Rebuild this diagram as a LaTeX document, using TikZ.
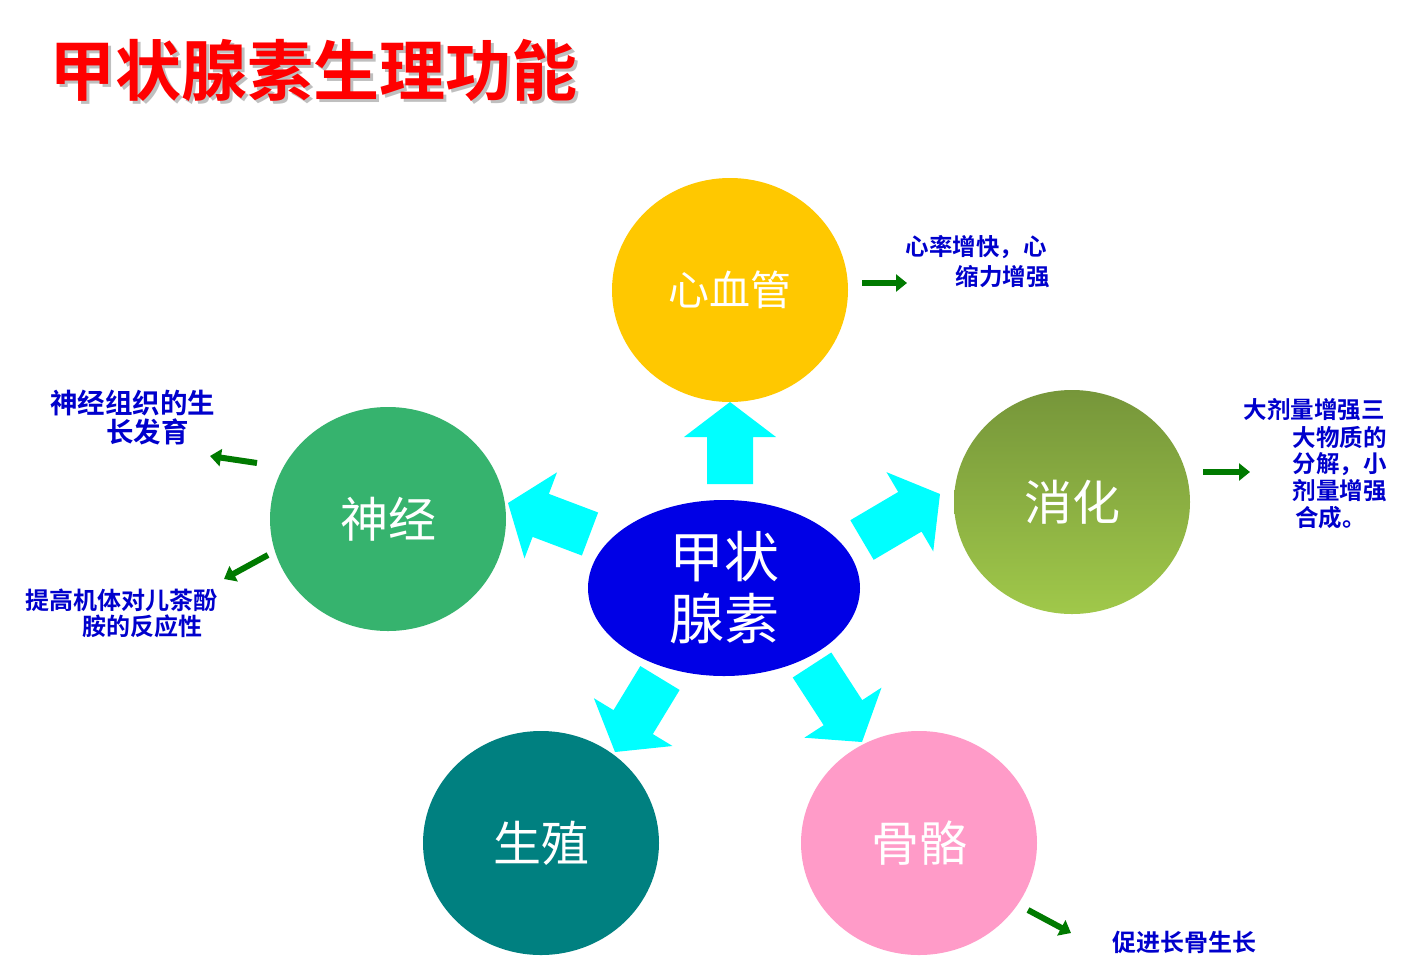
\documentclass[tikz,border=0pt]{standalone}
\usepackage{fontspec}
\newfontfamily\cjk{Noto Sans CJK SC}
\newfontfamily\cjkb{Noto Sans CJK SC Bold}
\usetikzlibrary{calc,arrows.meta,shapes.geometric}
\definecolor{gold}{HTML}{FFC800}
\definecolor{nerve}{HTML}{36B36E}
\definecolor{teal2}{HTML}{008080}
\definecolor{pink2}{HTML}{FF9BC8}
\definecolor{olvtop}{HTML}{76963A}
\definecolor{olvbot}{HTML}{A0C84A}
\definecolor{cblue}{HTML}{0000E6}
\definecolor{cyan2}{HTML}{00FFFF}
\definecolor{dgreen}{HTML}{007A00}
\definecolor{txtblue}{HTML}{0000CC}
\tikzset{
 organ/.style={ellipse,minimum width=236pt,minimum height=224pt,inner sep=0pt,text=white,font=\cjk\fontsize{48}{54}\selectfont},
 note/.style={text=txtblue,font=\cjkb\fontsize{23.5}{26}\selectfont,inner sep=0pt},
 garrow/.style={draw=dgreen,line width=6pt,-{Triangle[length=11pt,width=17pt]}},
 barrow/.style={fill=cyan2,draw=none}
}
\newcommand\blockarrow[2]{%
 \fill[barrow] ($(#1)!23pt!90:(#2)$) -- ($($(#2)!35pt!(#1)$)!23pt!90:(#2)$) -- ($($(#2)!35pt!(#1)$)!46pt!90:(#2)$) -- (#2)
 -- ($($(#2)!35pt!(#1)$)!46pt!-90:(#2)$) -- ($($(#2)!35pt!(#1)$)!23pt!-90:(#2)$) -- ($(#1)!23pt!-90:(#2)$) -- cycle;}
\begin{document}
\begin{tikzpicture}[x=1pt,y=-1pt]
\useasboundingbox[fill=white] (0,0) rectangle (1403,970);
% title with shadow
\node[anchor=west,text=red,font=\cjkb\fontsize{66}{70}\selectfont,inner sep=0pt,
  preaction={text=gray!50}] (title) at (49,72) {\makebox[0pt][l]{\hspace{3pt}\raisebox{-3pt}{\textcolor{gray!50}{甲状腺素生理功能}}}甲状腺素生理功能};
% block arrows
\coordinate (a1) at (730,484); \coordinate (b1) at (730,402);
\coordinate (a2) at (590,534); \coordinate (b2) at (508,503);
\coordinate (a3) at (862,540); \coordinate (b3) at (940,494);
\coordinate (a4) at (660,678); \coordinate (b4) at (615,752);
\coordinate (a5) at (812,665); \coordinate (b5) at (862,742);
\blockarrow{a1}{b1}\blockarrow{a2}{b2}\blockarrow{a3}{b3}\blockarrow{a4}{b4}\blockarrow{a5}{b5}
% center
\node[ellipse,fill=cblue,minimum width=272pt,minimum height=176pt,inner sep=0pt,text=white,align=center,font=\cjk\fontsize{55}{62}\selectfont] (c) at (724,588) {甲状\\腺素};
% organs
\node[organ,fill=gold] (cv) at (730,290) {\fontsize{41}{46}\selectfont 心血管};
\node[organ,top color=olvtop,bottom color=olvbot] (dg) at (1072,502) {消化};
\node[organ,fill=nerve] (nv) at (388,519) {神经};
\node[organ,fill=teal2] (rp) at (541,843) {生殖};
\node[organ,fill=pink2] (bn) at (919,843) {骨骼};
% green arrows
\coordinate (g1s) at (862,283); \coordinate (g1e) at (907,283);
\coordinate (g2s) at (1203,472); \coordinate (g2e) at (1250,472);
\coordinate (g3s) at (257,463); \coordinate (g3e) at (210,456);
\coordinate (g4s) at (268,555); \coordinate (g4e) at (224,579);
\coordinate (g5s) at (1028,910); \coordinate (g5e) at (1071,933);
\foreach \i in {1,...,5} \draw[garrow] (g\i s) -- (g\i e);
% notes
\node[note,anchor=east] (n1a) at (1047,247) {心率增快，心};
\node[note,anchor=east] (n1b) at (1050,277) {缩力增强};
\node[note,anchor=east] (n2a) at (1385,410) {大剂量增强三};
\node[note,anchor=east] (n2b) at (1387,437) {大物质的};
\node[note,anchor=east] (n2c) at (1387,464) {分解，小};
\node[note,anchor=east] (n2d) at (1387,491) {剂量增强};
\node[note,anchor=east] (n2e) at (1366,518) {合成。};
\node[note,anchor=west,font=\cjkb\fontsize{27.5}{30}\selectfont] (n3a) at (50,403) {神经组织的生};
\node[note,anchor=west,font=\cjkb\fontsize{27.5}{30}\selectfont] (n3b) at (106,432) {长发育};
\node[note,anchor=west,font=\cjkb\fontsize{24}{27}\selectfont] (n4a) at (25,600) {提高机体对儿茶酚};
\node[note,anchor=west,font=\cjkb\fontsize{24}{27}\selectfont] (n4b) at (82,626) {胺的反应性};
\node[note,anchor=west,font=\cjkb\fontsize{24}{27}\selectfont] (n5) at (1112,942) {促进长骨生长};
\end{tikzpicture}
\end{document}
